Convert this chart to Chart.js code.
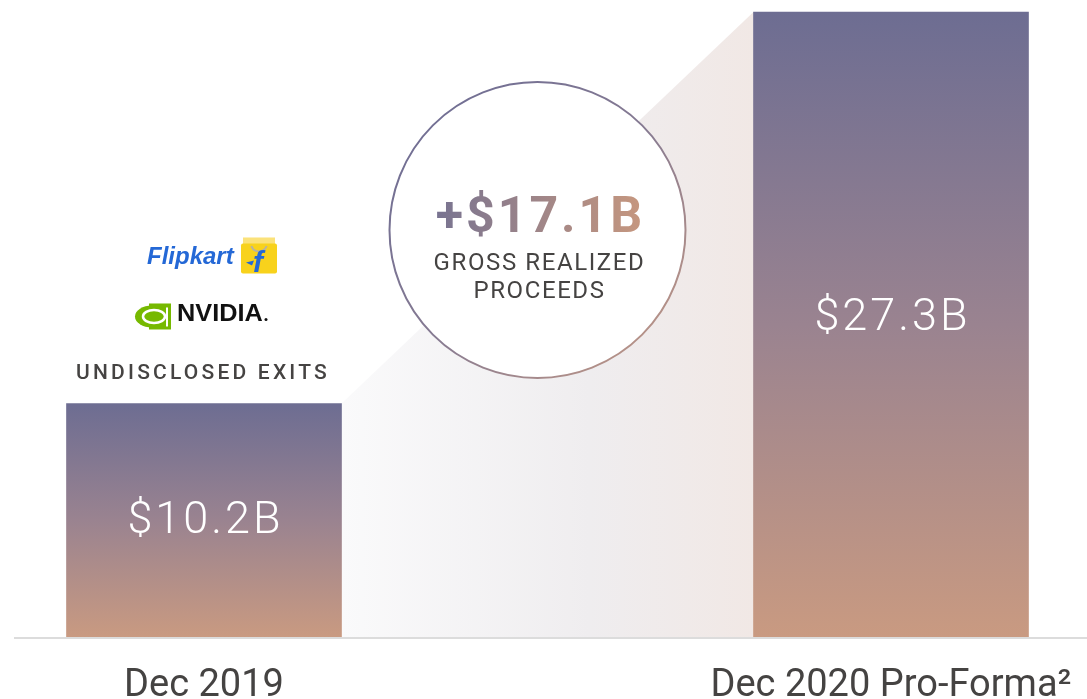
<!DOCTYPE html>
<html>
<head>
<meta charset="utf-8">
<title>Gross realized proceeds</title>
<script src="https://cdn.jsdelivr.net/npm/chart.js@4.4.1/dist/chart.umd.min.js"></script>
<style>
  html, body { margin: 0; padding: 0; background: #fff; }
  #wrap { width: 1087px; height: 699px; position: relative; }
</style>
</head>
<body>
<div id="wrap"><canvas id="proceeds"></canvas></div>
<script>
// values in $B
const periods = ['Dec 2019', 'Dec 2020 Pro-Forma\u00B2'];
const realizedValue = [10.2, 27.3];
const proceedsCaption = ['GROSS REALIZED', 'PROCEEDS'];
const exitCaption = 'UNDISCLOSED EXITS';

const BAR_TOP = '#6d6d92';
const BAR_MID = '#9a8390';
const BAR_BOTTOM = '#c99a81';
const FONT = 'Roboto, "Liberation Sans", sans-serif';
// baseline of the value text, relative to the middle of each bar
const labelNudge = [13, 5];

const fmt = v => '$' + v.toFixed(1) + 'B';

function barFill(ctx) {
  const chart = ctx.chart;
  if (!chart.chartArea || ctx.raw == null) return BAR_MID;
  const y = chart.scales.y;
  const top = y.getPixelForValue(ctx.raw);
  const bottom = y.getPixelForValue(0);
  const g = chart.ctx.createLinearGradient(0, top, 0, bottom);
  g.addColorStop(0, BAR_TOP);
  g.addColorStop(0.5, BAR_MID);
  g.addColorStop(1, BAR_BOTTOM);
  return g;
}

function drawFlipkart(c, x, y) {
  c.save();
  c.fillStyle = '#2468d6';
  c.font = 'italic bold 24px "Liberation Sans", Arial, sans-serif';
  c.textAlign = 'left';
  c.textBaseline = 'alphabetic';
  c.fillText('Flipkart', x, y);
  // shopping bag
  const bx = x + 94, by = y - 24;
  c.fillStyle = '#fbe27a';
  c.fillRect(bx + 2, by - 3, 32, 7);
  c.fillStyle = '#f8d21c';
  c.beginPath();
  c.roundRect(bx, by + 3, 36, 30, 2);
  c.fill();
  c.strokeStyle = '#b9b3a0';
  c.lineWidth = 2;
  c.beginPath();
  c.arc(bx + 18, by + 3, 8, 0.1 * Math.PI, 0.9 * Math.PI);
  c.stroke();
  c.fillStyle = '#2468d6';
  c.font = 'italic bold 30px "Liberation Sans", Arial, sans-serif';
  c.fillText('f', bx + 12, by + 32);
  c.beginPath();
  c.moveTo(bx + 5, by + 22);
  c.lineTo(bx + 13, by + 20);
  c.lineTo(bx + 11, by + 25);
  c.closePath();
  c.fill();
  c.restore();
}

function drawNvidia(c, x, y) {
  c.save();
  const g = '#76b900';
  c.fillStyle = g;
  c.fillRect(x + 14, y - 22, 22, 26);
  c.beginPath();
  c.ellipse(x + 17, y - 9, 17, 11, 0, 0, Math.PI * 2);
  c.fill();
  c.strokeStyle = '#fff';
  c.lineWidth = 2.5;
  c.beginPath();
  c.ellipse(x + 19, y - 9, 11, 6.5, 0, 0, Math.PI * 2);
  c.stroke();
  c.fillStyle = g;
  c.beginPath();
  c.ellipse(x + 21, y - 9, 5, 4, 0, 0, Math.PI * 2);
  c.fill();
  c.fillStyle = '#fff';
  c.fillRect(x + 31, y - 18, 2, 19);
  c.fillStyle = '#111';
  c.font = 'bold 23px "Liberation Sans", Arial, sans-serif';
  c.textAlign = 'left';
  c.textBaseline = 'alphabetic';
  c.save();
  c.translate(x + 42, y - 4);
  c.scale(1.1, 1);
  c.fillText('NVIDIA', 0, 0);
  c.restore();
  c.beginPath();
  c.arc(x + 131, y - 6, 1.5, 0, Math.PI * 2);
  c.fill();
  c.restore();
}

const decor = {
  id: 'proceedsDecor',
  beforeDatasetsDraw(chart) {
    const c = chart.ctx;
    const bars = chart.getDatasetMeta(0).data;
    const base = chart.scales.y.getPixelForValue(0);
    const a = bars[0], b = bars[1];
    const x0 = a.x + a.width / 2, x1 = b.x - b.width / 2;
    const g = c.createLinearGradient(x0, 0, x1, 0);
    g.addColorStop(0, '#fafafb');
    g.addColorStop(0.6, '#efedef');
    g.addColorStop(1, '#f1e8e5');
    c.save();
    c.fillStyle = g;
    c.beginPath();
    c.moveTo(x0, a.y);
    c.lineTo(x1, b.y);
    c.lineTo(x1, base);
    c.lineTo(x0, base);
    c.closePath();
    c.fill();
    c.restore();
  },
  afterDatasetsDraw(chart) {
    const c = chart.ctx;
    const bars = chart.getDatasetMeta(0).data;
    const base = chart.scales.y.getPixelForValue(0);

    c.save();
    // baseline
    c.strokeStyle = '#dcdcdc';
    c.lineWidth = 2;
    c.beginPath();
    c.moveTo(14, base + 1);
    c.lineTo(chart.width, base + 1);
    c.stroke();

    // value labels inside the bars
    c.fillStyle = '#fff';
    c.font = '300 45px ' + FONT;
    c.letterSpacing = '3px';
    c.textAlign = 'center';
    c.textBaseline = 'alphabetic';
    bars.forEach((bar, i) => {
      const mid = (bar.y + base) / 2;
      c.fillText(fmt(realizedValue[i]), bar.x + 1.5, mid + labelNudge[i]);
    });

    // difference bubble
    const a = bars[0], b = bars[1];
    const cx = (a.x + a.width / 2 + b.x - b.width / 2) / 2 - 10;
    const cy = 230, r = 148;
    c.beginPath();
    c.arc(cx, cy, r, 0, Math.PI * 2);
    c.fillStyle = '#fff';
    c.fill();
    const ring = c.createLinearGradient(cx - r, cy - r, cx + r, cy + r);
    ring.addColorStop(0, '#6b6b94');
    ring.addColorStop(0.5, '#857a92');
    ring.addColorStop(1, '#c79a84');
    c.strokeStyle = ring;
    c.lineWidth = 2;
    c.stroke();

    const diff = realizedValue[1] - realizedValue[0];
    c.font = 'bold 50px ' + FONT;
    c.letterSpacing = '3px';
    const txt = '+' + fmt(diff);
    const w = c.measureText(txt).width;
    const tg = c.createLinearGradient(cx - w / 2, 0, cx + w / 2, 0);
    tg.addColorStop(0, '#777391');
    tg.addColorStop(1, '#c6977f');
    c.fillStyle = tg;
    c.fillText(txt, cx + 3, 232);

    c.fillStyle = '#454342';
    c.font = '400 24px ' + FONT;
    c.letterSpacing = '1.6px';
    c.fillText(proceedsCaption[0], cx + 2, 270);
    c.fillText(proceedsCaption[1], cx + 2, 298);

    // exits listed above the first bar
    c.font = '500 21px ' + FONT;
    c.letterSpacing = '3.2px';
    c.fillStyle = '#454342';
    c.fillText(exitCaption, a.x - 1, a.y - 24);
    c.letterSpacing = '0px';
    c.restore();

    drawNvidia(c, a.x - 69, a.y - 78);
    drawFlipkart(c, a.x - 57, a.y - 139);
  }
};

new Chart(document.getElementById('proceeds'), {
  type: 'bar',
  data: {
    labels: periods,
    datasets: [{
      data: realizedValue,
      backgroundColor: barFill,
      borderWidth: 0,
      barThickness: 275,
      clip: false
    }]
  },
  options: {
    responsive: true,
    maintainAspectRatio: false,
    animation: false,
    layout: { padding: { left: 204, right: 196, top: 12, bottom: 0 } },
    plugins: { legend: { display: false }, tooltip: { enabled: false } },
    scales: {
      x: {
        offset: false,
        grid: { display: false },
        border: { display: false },
        ticks: {
          color: '#454342',
          padding: 19,
          font: { family: FONT, size: 38, weight: '400' },
          maxRotation: 0,
          autoSkip: false
        },
        afterFit(scale) {
          // the layout padding already leaves room for the long labels
          scale.height = 62;
          scale.paddingLeft = 0;
          scale.paddingRight = 0;
        }
      },
      y: {
        display: false,
        min: 0,
        max: Math.max(...realizedValue)
      }
    }
  },
  plugins: [decor]
});
</script>
</body>
</html>
